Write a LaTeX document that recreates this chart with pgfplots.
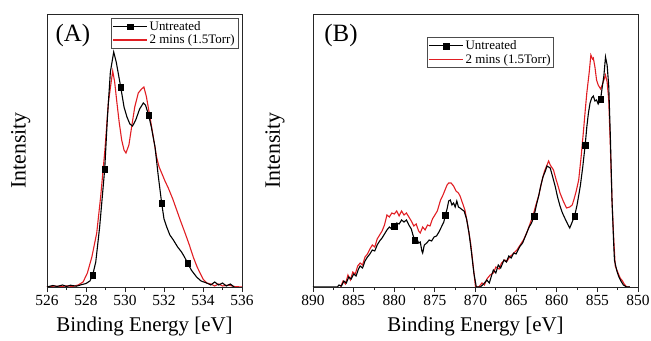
\documentclass[border=0pt]{standalone}
\usepackage{fontspec}
\setmainfont{Liberation Serif}
\usepackage{pgfplots}
\pgfplotsset{compat=1.18}
\definecolor{myred}{RGB}{225,30,35}
\pgfplotsset{
  myax/.style={
    scale only axis, height=273bp, ymin=0, ymax=273, ytick=\empty,
    axis line style={line width=0.8bp, black!85},
    tick align=outside, xtick pos=bottom, minor x tick num=1,
    major tick length=5bp, minor tick length=3bp,
    every tick/.style={line width=0.8bp, black!85},
    ticklabel style={font=\fontsize{15.5}{17}\selectfont},
    /pgf/number format/assume math mode=true,
    /pgf/number format/set thousands separator={},
    xlabel style={font=\fontsize{21}{24}\selectfont, at={(axis description cs:0.5,-0.145)}, anchor=center},
    ylabel style={font=\fontsize{22}{24}\selectfont, anchor=center},
    legend style={font=\fontsize{13}{14}\selectfont, draw=black!70, inner sep=1bp, row sep=-1bp, cells={anchor=west}},
  },
  blk/.style={black, line width=1.1bp, mark=none},
  rd/.style={myred, line width=1.1bp, mark=none},
  mk/.style={only marks, mark=square*, mark size=2.8bp, black},
  legblk/.style={legend image code/.code={\draw[black, line width=1.1bp] (0bp,0bp) -- (34bp,0bp); \fill[black] (14.2bp,-2.8bp) rectangle (19.8bp,2.8bp);}},
  legred/.style={legend image code/.code={\draw[myred, line width=1.3bp] (0bp,0bp) -- (34bp,0bp);}},
}
\begin{document}
\begin{tikzpicture}
\useasboundingbox (0bp,0bp) rectangle (651bp,341bp);
\begin{axis}[myax, at={(47bp,54bp)}, anchor=south west, width=195bp,
  xmin=526, xmax=536, xtick={526,528,...,536},
  xlabel={Binding Energy [eV]}, ylabel={Intensity},
  ylabel style={at={(axis description cs:-0.135,0.5)}},
  legend style={at={(axis description cs:0.979,0.985)}, anchor=north east}]
\addlegendimage{legblk}
\addlegendentry{Untreated}
\addlegendimage{legred}
\addlegendentry{2 mins (1.5Torr)}
\addplot[rd, forget plot] coordinates {
(526.0,0) (526.4,1) (526.7,0.3) (527.0,1.2) (527.3,0.5) (527.6,2) (527.85,5) (528.07,14) (528.3,30) (528.55,54) (528.75,90) (528.97,137) (529.15,185) (529.37,216) (529.47,205) (529.57,187) (529.7,165) (529.83,147) (529.95,137) (530.05,134) (530.2,142) (530.34,160) (530.5,180) (530.68,194) (530.85,198) (530.97,200) (531.1,190) (531.28,170) (531.45,150) (531.62,130) (531.75,120) (531.88,114) (532.05,106) (532.22,99) (532.45,88) (532.65,77) (532.85,66) (533.08,54) (533.3,42) (533.5,30) (533.7,20) (533.85,14) (534.0,8) (534.19,4) (534.4,3) (534.6,1) (534.8,3) (535.0,1) (535.3,2) (535.6,0.5) (536,0)};
\addplot[blk, forget plot] coordinates {
(526.0,0) (526.3,1.5) (526.5,0.5) (526.8,2) (527.0,0.5) (527.2,1.8) (527.5,0.8) (527.8,2.5) (528.0,3.5) (528.2,6) (528.34,11.7) (528.5,25) (528.7,60) (528.96,118) (529.1,170) (529.25,215) (529.42,235) (529.55,225) (529.78,200) (529.95,180) (530.1,170) (530.25,163) (530.39,161) (530.55,167) (530.75,178) (530.94,184) (531.05,182) (531.21,172) (531.35,160) (531.54,140) (531.7,112) (531.88,84) (532.0,68) (532.14,60) (532.3,52) (532.48,47) (532.7,40) (532.9,35) (533.05,30) (533.21,24) (533.4,17) (533.67,10) (533.9,6) (534.19,4) (534.4,2) (534.6,5) (534.8,2) (535.0,4) (535.2,1) (535.4,3) (535.6,0)};
\addplot[mk, forget plot] coordinates {(528.34,11.7) (528.96,118) (529.78,200) (531.21,172) (531.88,84) (533.21,24)};
\node[font=\fontsize{25}{28}\selectfont] at (axis description cs:0.133,0.923) {(A)};
\end{axis}
\begin{axis}[myax, at={(313bp,54bp)}, anchor=south west, width=325bp,
  x dir=reverse, xmin=850, xmax=890, xtick={850,855,...,890},
  xlabel={Binding Energy [eV]}, ylabel={Intensity},
  ylabel style={at={(axis description cs:-0.117,0.5)}},
  legend style={at={(axis description cs:0.351,0.914)}, anchor=north west}]
\addlegendimage{legblk}
\addlegendentry{Untreated}
\addlegendimage{legred}
\addlegendentry{2 mins (1.5Torr)}
\addplot[rd, forget plot] coordinates {
(886.6,0) (886.3,6) (886.0,3) (885.7,12) (885.4,7) (885.1,15) (884.8,13) (884.5,21) (884.2,24) (883.9,22) (883.6,30) (883.3,33) (883.0,38) (882.7,42) (882.4,40) (882.1,48) (881.8,52) (881.5,56) (881.2,62) (880.9,72) (880.6,70) (880.3,74) (880.0,73) (879.7,76) (879.4,71) (879.1,76) (878.8,72) (878.5,74) (878.2,70) (877.9,66) (877.6,61) (877.3,63) (877.0,56) (876.8,54) (876.5,60) (876.2,57) (875.9,62) (875.6,61) (875.3,68) (875.0,72) (874.7,76) (874.3,87) (874.0,92) (873.7,98) (873.5,102) (873.3,104) (873.0,104) (872.7,101) (872.4,96) (872.1,94) (871.9,91) (871.6,84) (871.3,77) (871.0,64) (870.6,44) (870.3,22) (870.0,0) (869.6,0) (869.2,4) (868.9,2) (868.6,8) (868.2,12) (867.8,14) (867.5,20) (867.1,18) (866.8,24) (866.4,27) (866.1,26) (865.8,30) (865.4,33) (864.9,37) (864.5,42) (864.1,47) (863.7,54) (863.3,63) (862.9,72) (862.6,81) (862.2,92) (861.8,107) (861.5,116) (861.2,122) (861.0,126) (860.8,122) (860.4,117) (860.1,108) (859.8,100) (859.6,94) (859.2,86) (858.8,79) (858.4,80) (858.1,82) (857.9,87) (857.6,96) (857.3,107) (857.0,130) (856.7,157) (856.5,176) (856.3,194) (856.0,215) (855.8,232) (855.6,228) (855.5,229) (855.3,220) (855.1,207) (854.9,202) (854.6,198) (854.4,202) (854.2,207) (854.0,212) (853.8,205) (853.6,187) (853.4,140) (853.2,87) (853.0,50) (852.8,21) (852.5,15) (852.2,9) (851.9,6) (851.7,3) (851.4,0) (851.0,0)};
\addplot[blk, forget plot] coordinates {
(890,0) (887.5,0) (887.0,0) (886.8,2) (886.5,1) (886.2,6) (885.9,4) (885.6,10) (885.3,8) (885.0,13) (884.7,11) (884.4,18) (884.2,21) (883.9,19) (883.6,26) (883.3,30) (883.0,33) (882.7,37) (882.4,36) (882.1,42) (881.8,46) (881.5,49) (881.2,53) (880.9,57) (880.6,60) (880.3,58) (880.0,61) (879.7,64) (879.4,63) (879.1,67) (878.8,65) (878.5,67) (878.2,62) (877.9,58) (877.7,52) (877.5,47) (877.2,48) (877.0,44) (876.8,45) (876.6,36) (876.5,34) (876.3,42) (876.0,44) (875.7,47) (875.4,46) (875.1,50) (874.8,51) (874.5,55) (874.2,60) (873.9,65) (873.7,72) (873.5,78) (873.3,86) (873.1,87) (872.9,82) (872.7,84) (872.5,80) (872.3,86) (872.1,80) (871.9,79) (871.6,77) (871.4,76) (871.1,68) (870.8,54) (870.5,35) (870.2,14) (869.9,0) (869.4,0) (869.0,3) (868.6,7) (868.3,4) (868.0,12) (867.8,17) (867.5,14) (867.2,22) (866.9,19) (866.5,27) (866.2,25) (865.9,31) (865.6,29) (865.3,34) (865.0,33) (864.7,38) (864.5,41) (864.2,44) (863.9,50) (863.7,54) (863.4,60) (863.1,64) (862.8,71) (862.5,82) (862.2,92) (862.0,100) (861.7,110) (861.4,116) (861.2,121) (861.0,120) (860.8,119) (860.5,110) (860.2,101) (859.9,90) (859.6,81) (859.3,74) (858.9,67) (858.6,62) (858.4,59) (858.1,65) (857.8,71) (857.5,82) (857.1,101) (856.8,120) (856.5,142) (856.3,160) (856.1,174) (855.9,184) (855.7,189) (855.5,191) (855.3,186) (855.1,187) (854.9,183) (854.6,188) (854.4,200) (854.2,211) (854.0,230) (853.8,222) (853.6,201) (853.4,150) (853.2,87) (853.0,45) (852.9,27) (852.6,16) (852.4,11) (852.1,6) (851.8,2) (851.4,0) (851.0,0)};
\addplot[mk, forget plot] coordinates {(880.0,61) (877.5,47) (873.7,72) (862.8,71) (857.8,71) (856.5,142) (854.6,188)};
\node[font=\fontsize{25}{28}\selectfont] at (axis description cs:0.086,0.923) {(B)};
\end{axis}
\end{tikzpicture}
\end{document}
